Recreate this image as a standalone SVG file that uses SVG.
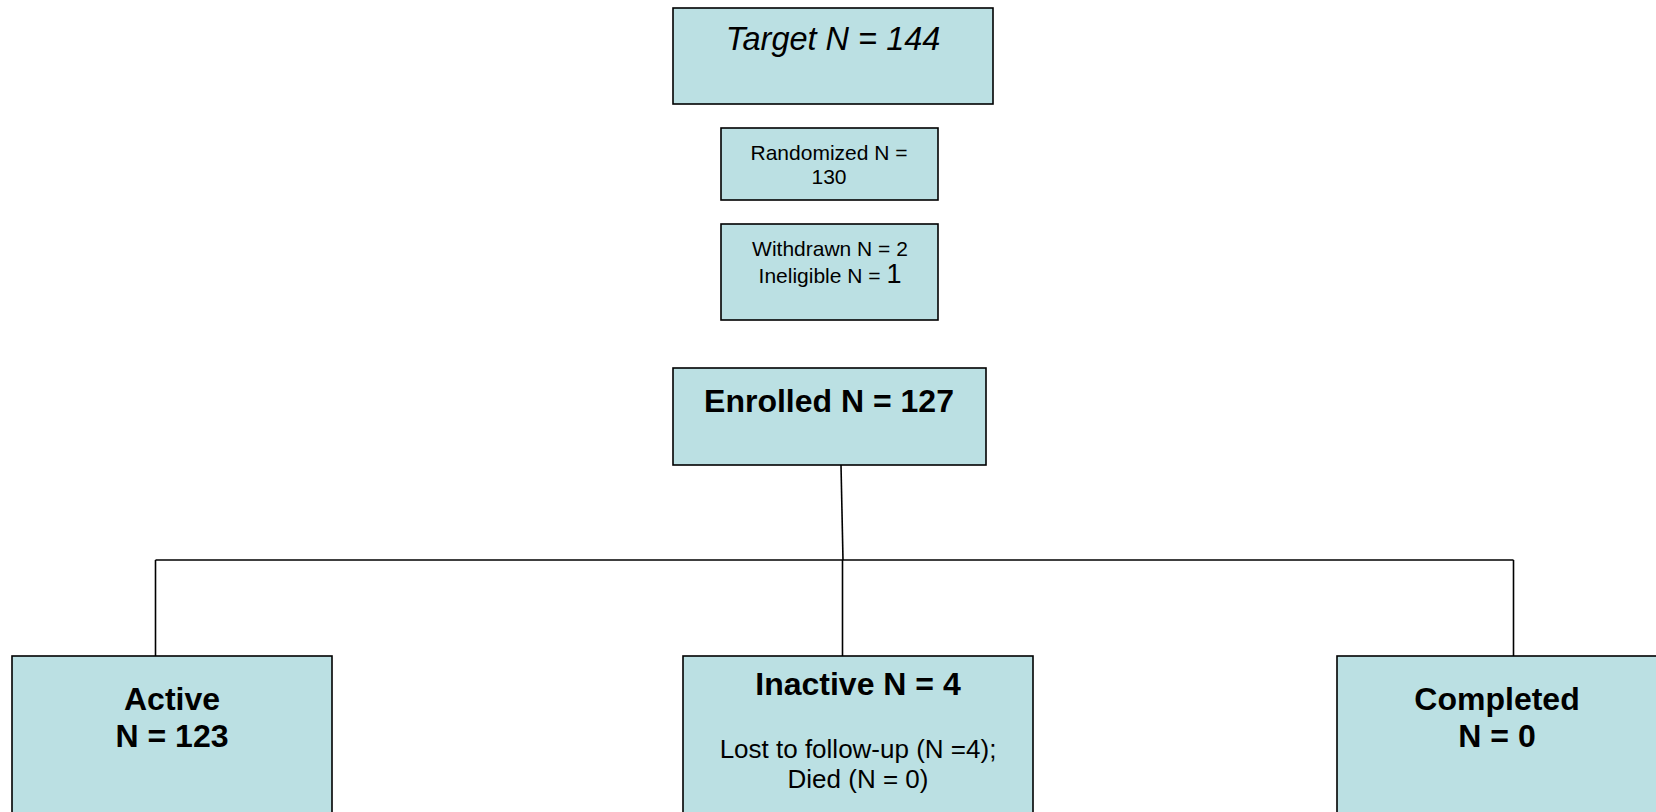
<svg xmlns="http://www.w3.org/2000/svg" width="1656" height="812" viewBox="0 0 1656 812">
<style>
.box{fill:#BBE0E3;stroke:#000;stroke-width:1.6}
.t{font-family:"Liberation Sans",Arial,sans-serif;fill:#000;text-anchor:middle}
.big{font-size:32px}
.b{font-weight:bold}
.i{font-style:italic;font-size:32.5px}
.sm{font-size:21px}
.md{font-size:26px}
.conn{fill:none;stroke:#000;stroke-width:1.6}
</style>
<rect width="1656" height="812" fill="#fff"/>
<g id="connectors">
<path class="conn" d="M841 465 L843 560"/>
<path class="conn" d="M155.5 560 H1513.5"/>
<path class="conn" d="M155.5 560 V656"/>
<path class="conn" d="M842.5 560 V656"/>
<path class="conn" d="M1513.5 560 V656"/>
</g>
<g id="target">
<rect class="box" x="673" y="8" width="320" height="96"/>
<text class="t i" x="833" y="50">Target N = 144</text>
</g>
<g id="randomized">
<rect class="box" x="721" y="128" width="217" height="72"/>
<text class="t sm" x="829" y="160">Randomized N =</text>
<text class="t sm" x="829" y="184">130</text>
</g>
<g id="withdrawn">
<rect class="box" x="721" y="224" width="217" height="96"/>
<text class="t sm" x="830" y="256">Withdrawn N = 2</text>
<text class="t sm" x="830" y="283">Ineligible N = <tspan font-size="27">1</tspan></text>
</g>
<g id="enrolled">
<rect class="box" x="673" y="368" width="313" height="97"/>
<text class="t big b" x="829" y="412">Enrolled N = 127</text>
</g>
<g id="active">
<rect class="box" x="12" y="656" width="320" height="180"/>
<text class="t big b" x="172" y="710">Active</text>
<text class="t big b" x="172" y="747">N = 123</text>
</g>
<g id="inactive">
<rect class="box" x="683" y="656" width="350" height="180"/>
<text class="t big b" x="858" y="695">Inactive N = 4</text>
<text class="t md" x="858" y="758">Lost to follow-up (N =4);</text>
<text class="t md" x="858" y="788">Died (N = 0)</text>
</g>
<g id="completed">
<rect class="box" x="1337" y="656" width="330" height="180"/>
<text class="t big b" x="1497" y="710">Completed</text>
<text class="t big b" x="1497" y="747">N = 0</text>
</g>
</svg>
